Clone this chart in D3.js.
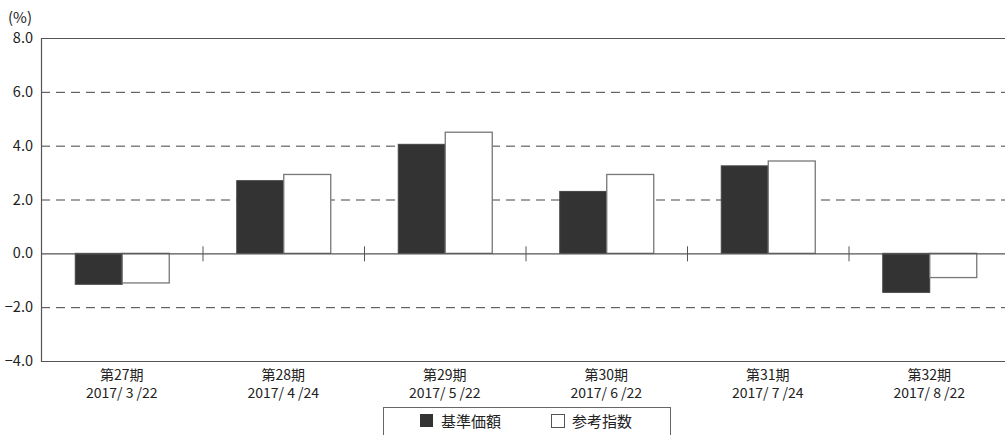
<!DOCTYPE html>
<html><head><meta charset="utf-8">
<script src="https://cdn.jsdelivr.net/npm/d3@7"></script>
<style>body{margin:0;background:#fff}svg{display:block}text{font-family:"Noto Sans CJK JP","Noto Sans",sans-serif;fill:#222}</style>
</head><body><svg id="c" width="1005" height="435"></svg>
<script>
const periods = ["第27期","第28期","第29期","第30期","第31期","第32期"];
const dates = ["2017/ 3 /22","2017/ 4 /24","2017/ 5 /22","2017/ 6 /22","2017/ 7 /24","2017/ 8 /22"];
const navValues = [-1.15, 2.7, 4.05, 2.3, 3.25, -1.45];
const refValues = [-1.1, 2.93, 4.5, 2.93, 3.43, -0.9];
const seriesNames = ["基準価額","参考指数"];
const yTicks = [-4, -2, 0, 2, 4, 6, 8];

const svg = d3.select("#c");
const L = 41, R = 1010, T = 38, B = 361;
const x = d3.scaleBand().domain(d3.range(periods.length)).range([L, R]).padding(0);
const y = d3.scaleLinear().domain([-4, 8]).range([B, T]);
const bw = 47;

// grid
svg.append("g").selectAll("line").data(yTicks.filter(v => v !== 8 && v !== 0 && v !== -4)).join("line")
  .attr("x1", L).attr("x2", 1005).attr("y1", d => y(d)+0.5).attr("y2", d => y(d)+0.5)
  .attr("stroke", "#444").attr("stroke-width", 1).attr("stroke-dasharray", "9,6");

// y axis labels
const ya = svg.append("g").attr("transform", `translate(${L},0)`)
  .call(d3.axisLeft(y).tickValues(yTicks).tickFormat(d3.format(".1f")).tickSize(0).tickPadding(8));
ya.select(".domain").remove();
ya.selectAll("text").style("font-size", "14.5px").attr("fill", "#222");

svg.append("text").attr("x", 8).attr("y", 23).text("(%)").style("font-size", "15px");

// bars
const g = svg.append("g");
g.selectAll("rect.nav").data(navValues).join("rect").attr("class","nav")
  .attr("x", (d,i) => x(i) + x.bandwidth()/2 - bw + 0.5)
  .attr("y", d => y(Math.max(0,d)))
  .attr("width", bw).attr("height", d => Math.abs(y(d) - y(0)))
  .attr("fill", "#333").attr("stroke", "#444").attr("stroke-width", 1);
g.selectAll("rect.ref").data(refValues).join("rect").attr("class","ref")
  .attr("x", (d,i) => x(i) + x.bandwidth()/2 + 0.5)
  .attr("y", d => y(Math.max(0,d)))
  .attr("width", bw).attr("height", d => Math.abs(y(d) - y(0)))
  .attr("fill", "#fff").attr("stroke", "#777").attr("stroke-width", 1.3);

// frame
svg.append("path").attr("d", `M1005,${T+0.5}H${L+0.5}V${B+0.5}H1005`).attr("fill","none").attr("stroke","#555").attr("stroke-width",1.2);
// zero line
svg.append("line").attr("x1", L).attr("x2", 1005).attr("y1", y(0)+0.5).attr("y2", y(0)+0.5).attr("stroke","#555").attr("stroke-width",1.2);
// separator ticks
svg.append("g").selectAll("line").data(d3.range(1, periods.length)).join("line")
  .attr("x1", i => x(i)+0.5).attr("x2", i => x(i)+0.5)
  .attr("y1", y(0)-7).attr("y2", y(0)+8).attr("stroke","#555").attr("stroke-width",1);

// category labels (two lines)
const cl = svg.append("g").selectAll("g").data(periods).join("g")
  .attr("transform", (d,i) => `translate(${x(i)+x.bandwidth()/2},0)`);
cl.append("text").attr("y", 380).attr("text-anchor","middle").style("font-size","14px").text(d => d);
cl.append("text").attr("y", 398).attr("text-anchor","middle").style("font-size","14px").text((d,i) => dates[i]);

// legend
svg.append("rect").attr("x", 383.5).attr("y", 407.5).attr("width", 287).attr("height", 40)
  .attr("fill","#fff").attr("stroke","#666").attr("stroke-width",1);
svg.append("rect").attr("x", 420).attr("y", 414).attr("width", 13).attr("height", 13).attr("fill","#333");
svg.append("rect").attr("x", 551.5).attr("y", 414.5).attr("width", 13).attr("height", 13).attr("fill","#fff").attr("stroke","#555");
svg.append("text").attr("x", 441).attr("y", 427).style("font-size","15px").text(seriesNames[0]);
svg.append("text").attr("x", 572).attr("y", 427).style("font-size","15px").text(seriesNames[1]);
</script></body></html>
